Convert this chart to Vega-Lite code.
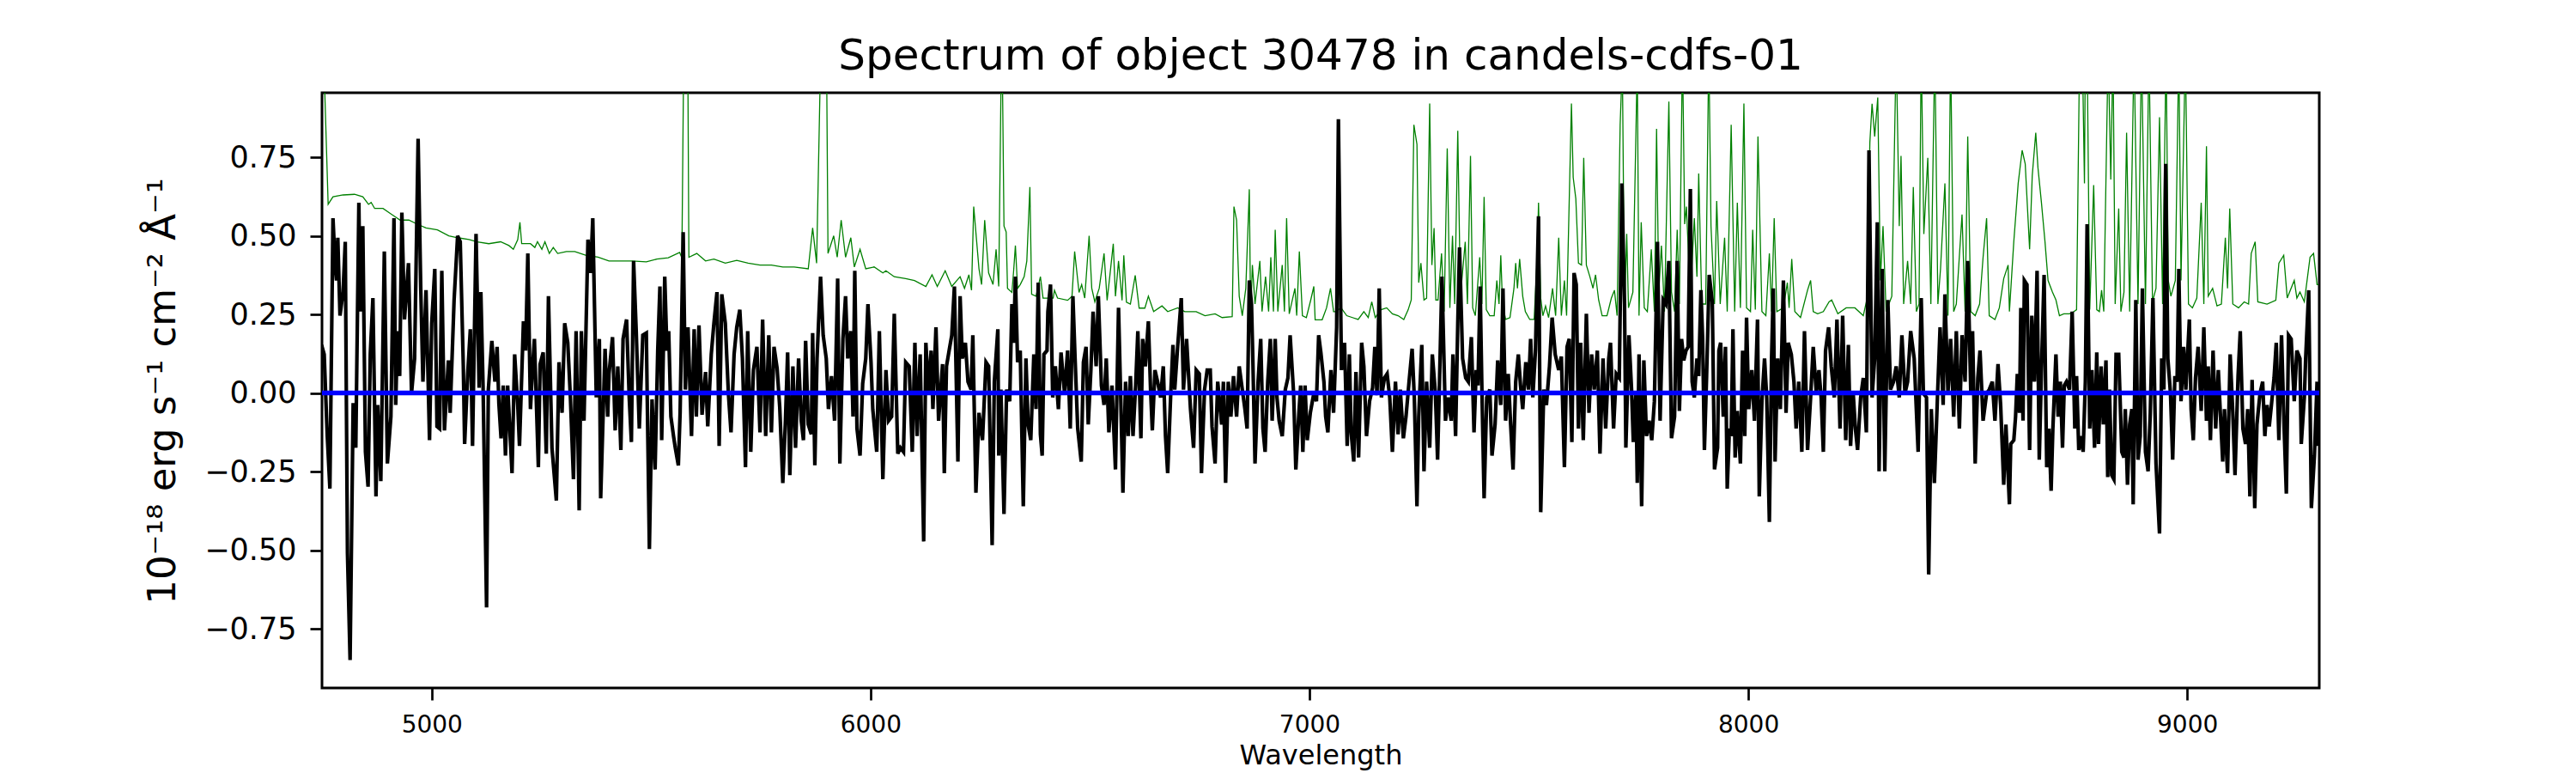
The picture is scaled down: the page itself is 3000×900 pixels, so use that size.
{
  "$schema": "https://vega.github.io/schema/vega-lite/v6.json",
  "description": "Spectrum of object 30478 (flux, error and zero line).",
  "autosize": {"type": "none"},
  "padding": {"left": 375, "top": 108, "right": 299, "bottom": 99},
  "width": 2326,
  "height": 693,
  "background": "white",
  "title": {
    "text": "Spectrum of object 30478 in candels-cdfs-01",
    "font": "DejaVu Sans",
    "fontSize": 50,
    "fontWeight": "normal",
    "color": "#000000",
    "anchor": "middle",
    "baseline": "alphabetic",
    "offset": 24,
    "dy": 47
  },
  "datasets": {
    "err": [
      {"w":4749,"v":1.3},{"w":4764,"v":0.6},{"w":4775,"v":0.624},{"w":4798,"v":0.63},{"w":4824,"v":0.632},{"w":4843,"v":0.624},{"w":4856,"v":0.6},{"w":4862,"v":0.606},{"w":4870,"v":0.587},{"w":4889,"v":0.587},{"w":4909,"v":0.568},{"w":4928,"v":0.55},{"w":4948,"v":0.55},{"w":4967,"v":0.537},{"w":4987,"v":0.525},{"w":5013,"v":0.519},{"w":5039,"v":0.5},{"w":5059,"v":0.494},{"w":5085,"v":0.488},{"w":5104,"v":0.481},{"w":5130,"v":0.475},{"w":5157,"v":0.481},{"w":5176,"v":0.469},{"w":5186,"v":0.457},{"w":5196,"v":0.488},{"w":5201,"v":0.543},{"w":5205,"v":0.475},{"w":5225,"v":0.475},{"w":5235,"v":0.463},{"w":5241,"v":0.481},{"w":5251,"v":0.457},{"w":5258,"v":0.481},{"w":5268,"v":0.444},{"w":5277,"v":0.463},{"w":5287,"v":0.444},{"w":5307,"v":0.45},{"w":5326,"v":0.45},{"w":5352,"v":0.438},{"w":5379,"v":0.432},{"w":5404,"v":0.42},{"w":5431,"v":0.42},{"w":5457,"v":0.42},{"w":5489,"v":0.417},
      {"w":5513,"v":0.426},{"w":5539,"v":0.43},{"w":5565,"v":0.447},{"w":5570,"v":0.43},{"w":5575,"v":1.2},{"w":5583,"v":1.2},{"w":5586,"v":0.432},{"w":5604,"v":0.444},{"w":5624,"v":0.42},{"w":5643,"v":0.426},{"w":5669,"v":0.413},{"w":5695,"v":0.422},{"w":5721,"v":0.413},{"w":5748,"v":0.407},{"w":5774,"v":0.407},{"w":5800,"v":0.401},{"w":5826,"v":0.401},{"w":5858,"v":0.395},{"w":5868,"v":0.525},{"w":5877,"v":0.413},{"w":5888,"v":1.2},{"w":5899,"v":1.2},{"w":5903,"v":0.444},{"w":5916,"v":0.5},{"w":5924,"v":0.432},{"w":5933,"v":0.55},{"w":5943,"v":0.432},{"w":5955,"v":0.494},{"w":5963,"v":0.401},{"w":5976,"v":0.457},{"w":5989,"v":0.395},{"w":6008,"v":0.401},{"w":6028,"v":0.382},{"w":6035,"v":0.389},{"w":6054,"v":0.37},{"w":6080,"v":0.364},{"w":6100,"v":0.358},{"w":6126,"v":0.339},{"w":6140,"v":0.376},{"w":6152,"v":0.339},{"w":6170,"v":0.389},{"w":6185,"v":0.339},{"w":6204,"v":0.37},{"w":6214,"v":0.333},{"w":6224,"v":0.376},{"w":6230,"v":0.327},{"w":6235,"v":0.593},{"w":6247,"v":0.395},{"w":6253,"v":0.345},{"w":6260,"v":0.55},{"w":6269,"v":0.382},{"w":6279,"v":0.345},
      {"w":6286,"v":0.457},{"w":6292,"v":0.339},{"w":6299,"v":1.2},{"w":6304,"v":0.531},{"w":6309,"v":0.512},{"w":6312,"v":0.333},{"w":6322,"v":0.32},{"w":6326,"v":0.389},{"w":6330,"v":0.469},{"w":6335,"v":0.333},{"w":6341,"v":0.345},{"w":6350,"v":0.37},{"w":6356,"v":0.42},{"w":6363,"v":0.655},{"w":6367,"v":0.314},{"w":6377,"v":0.308},{"w":6387,"v":0.37},{"w":6393,"v":0.302},{"w":6416,"v":0.302},{"w":6419,"v":0.327},{"w":6426,"v":0.302},{"w":6449,"v":0.295},{"w":6459,"v":0.308},{"w":6465,"v":0.45},{"w":6475,"v":0.32},{"w":6481,"v":0.345},{"w":6488,"v":0.302},{"w":6498,"v":0.5},{"w":6504,"v":0.333},{"w":6511,"v":0.29},{"w":6521,"v":0.333},{"w":6532,"v":0.444},{"w":6539,"v":0.295},{"w":6545,"v":0.37},{"w":6553,"v":0.475},{"w":6558,"v":0.308},{"w":6565,"v":0.42},{"w":6573,"v":0.295},{"w":6577,"v":0.438},{"w":6583,"v":0.289},{"w":6592,"v":0.283},{"w":6603,"v":0.374},{"w":6612,"v":0.27},{"w":6625,"v":0.27},{"w":6633,"v":0.308},{"w":6645,"v":0.259},{"w":6664,"v":0.277},{"w":6677,"v":0.259},{"w":6700,"v":0.271},{"w":6716,"v":0.259},{"w":6742,"v":0.259},{"w":6762,"v":0.246},{"w":6785,"v":0.252},{"w":6801,"v":0.24},{"w":6824,"v":0.243},{"w":6828,"v":0.593},{"w":6834,"v":0.55},{"w":6840,"v":0.308},{"w":6847,"v":0.246},{"w":6855,"v":0.333},{"w":6863,"v":0.648},{"w":6866,"v":0.246},{"w":6870,"v":0.407},{"w":6876,"v":0.283},{"w":6887,"v":0.42},{"w":6892,"v":0.259},{"w":6900,"v":0.37},{"w":6907,"v":0.259},{"w":6912,"v":0.432},{"w":6918,"v":0.259},{"w":6922,"v":0.519},{"w":6928,"v":0.259},{"w":6938,"v":0.407},{"w":6943,"v":0.259},{"w":6948,"v":0.556},{"w":6954,"v":0.252},{"w":6967,"v":0.333},{"w":6971,"v":0.246},{"w":6977,"v":0.45},{"w":6984,"v":0.246},{"w":6993,"v":0.24},{"w":7003,"v":0.296},{"w":7010,"v":0.339},{"w":7013,"v":0.233},{"w":7029,"v":0.233},{"w":7039,"v":0.271},{"w":7048,"v":0.333},{"w":7055,"v":0.259},
      {"w":7059,"v":0.259},{"w":7072,"v":0.271},{"w":7085,"v":0.246},{"w":7098,"v":0.24},{"w":7111,"v":0.234},{"w":7124,"v":0.259},{"w":7134,"v":0.24},{"w":7142,"v":0.29},{"w":7150,"v":0.24},{"w":7163,"v":0.265},{"w":7176,"v":0.271},{"w":7189,"v":0.252},{"w":7202,"v":0.246},{"w":7215,"v":0.234},{"w":7225,"v":0.265},{"w":7232,"v":0.296},{"w":7238,"v":0.853},{"w":7245,"v":0.791},{"w":7249,"v":0.351},{"w":7254,"v":0.413},{"w":7261,"v":0.296},{"w":7267,"v":0.302},{"w":7274,"v":0.921},{"w":7279,"v":0.407},{"w":7284,"v":0.525},{"w":7288,"v":0.296},{"w":7293,"v":0.296},{"w":7301,"v":0.444},{"w":7307,"v":0.259},{"w":7314,"v":0.778},{"w":7320,"v":0.271},{"w":7326,"v":0.5},{"w":7331,"v":0.283},{"w":7338,"v":0.834},{"w":7344,"v":0.308},{"w":7355,"v":0.481},{"w":7360,"v":0.283},{"w":7367,"v":0.754},{"w":7372,"v":0.271},{"w":7378,"v":0.246},{"w":7388,"v":0.432},{"w":7393,"v":0.283},{"w":7398,"v":0.624},{"w":7403,"v":0.265},{"w":7411,"v":0.246},{"w":7421,"v":0.246},{"w":7427,"v":0.358},{"w":7432,"v":0.283},{"w":7436,"v":0.438},{"w":7440,"v":0.283},{"w":7447,"v":0.234},{"w":7457,"v":0.24},{"w":7466,"v":0.333},{"w":7470,"v":0.413},{"w":7474,"v":0.333},{"w":7479,"v":0.426},{"w":7486,"v":0.308},{"w":7492,"v":0.259},{"w":7502,"v":0.234},{"w":7512,"v":0.234},{"w":7519,"v":0.432},{"w":7522,"v":0.605},{"w":7527,"v":0.302},{"w":7532,"v":0.246},{"w":7538,"v":0.277},{"w":7545,"v":0.24},{"w":7554,"v":0.333},{"w":7561,"v":0.246},{"w":7568,"v":0.494},{"w":7574,"v":0.246},{"w":7581,"v":0.358},{"w":7586,"v":0.246},{"w":7597,"v":0.921},{"w":7601,"v":0.686},{"w":7607,"v":0.618},{"w":7613,"v":0.413},{"w":7620,"v":0.407},{"w":7625,"v":0.748},{"w":7631,"v":0.407},{"w":7639,"v":0.37},{"w":7646,"v":0.333},{"w":7652,"v":0.376},{"w":7659,"v":0.296},{"w":7667,"v":0.246},{"w":7678,"v":0.246},{"w":7688,"v":0.302},{"w":7695,"v":0.327},{"w":7701,"v":0.246},{"w":7708,"v":0.853},{"w":7713,"v":1.05},{"w":7718,"v":0.259},{"w":7723,"v":0.506},{"w":7727,"v":0.271},{"w":7737,"v":0.321},{"w":7747,"v":1.05},{"w":7751,"v":0.246},{"w":7756,"v":0.543},{"w":7763,"v":0.271},{"w":7770,"v":0.259},{"w":7779,"v":0.457},{"w":7786,"v":0.259},{"w":7791,"v":0.84},{"w":7796,"v":0.321},{"w":7802,"v":0.469},{"w":7809,"v":0.259},{"w":7819,"v":0.927},{"w":7825,"v":0.321},{"w":7832,"v":0.259},{"w":7838,"v":0.519},
      {"w":7843,"v":0.283},{"w":7850,"v":1.1},{"w":7855,"v":0.537},{"w":7859,"v":0.593},{"w":7868,"v":0.302},{"w":7872,"v":0.42},{"w":7877,"v":0.556},{"w":7883,"v":0.37},{"w":7887,"v":0.698},{"w":7894,"v":0.283},{"w":7903,"v":0.283},{"w":7910,"v":1.1},{"w":7915,"v":0.531},{"w":7923,"v":0.283},{"w":7928,"v":0.611},{"w":7936,"v":0.283},{"w":7946,"v":0.494},{"w":7952,"v":0.259},{"w":7961,"v":0.853},{"w":7969,"v":0.259},{"w":7975,"v":0.605},{"w":7982,"v":0.271},{"w":7990,"v":0.921},{"w":7996,"v":0.271},{"w":8005,"v":0.259},{"w":8010,"v":0.519},{"w":8016,"v":0.265},{"w":8022,"v":0.816},{"w":8031,"v":0.259},{"w":8040,"v":0.246},{"w":8048,"v":0.444},{"w":8053,"v":0.259},{"w":8059,"v":0.556},{"w":8065,"v":0.259},{"w":8080,"v":0.271},{"w":8089,"v":0.351},{"w":8093,"v":0.271},{"w":8099,"v":0.426},{"w":8106,"v":0.259},{"w":8119,"v":0.24},{"w":8135,"v":0.327},{"w":8142,"v":0.358},{"w":8148,"v":0.259},{"w":8158,"v":0.252},{"w":8171,"v":0.259},{"w":8184,"v":0.29},{"w":8190,"v":0.296},{"w":8204,"v":0.252},{"w":8223,"v":0.271},{"w":8243,"v":0.271},{"w":8262,"v":0.246},{"w":8270,"v":0.296},{"w":8277,"v":0.797},{"w":8282,"v":0.92},{"w":8288,"v":0.816},{"w":8295,"v":0.94},{"w":8301,"v":0.358},{"w":8307,"v":0.531},{"w":8314,"v":0.259},{"w":8327,"v":0.308},{"w":8337,"v":1.1},{"w":8344,"v":0.531},{"w":8348,"v":0.754},{"w":8354,"v":0.283},{"w":8363,"v":0.42},{"w":8370,"v":0.283},{"w":8376,"v":0.655},{"w":8383,"v":0.259},{"w":8389,"v":0.283},{"w":8394,"v":1.1},{"w":8400,"v":0.506},{"w":8409,"v":0.748},{"w":8416,"v":0.283},{"w":8425,"v":1.1},{"w":8432,"v":0.283},{"w":8438,"v":0.395},{"w":8448,"v":0.667},{"w":8455,"v":0.246},{"w":8461,"v":1.1},{"w":8468,"v":0.259},{"w":8474,"v":0.283},{"w":8487,"v":0.568},{"w":8494,"v":0.259},{"w":8500,"v":0.816},{"w":8507,"v":0.259},{"w":8517,"v":0.246},{"w":8527,"v":0.283},{"w":8535,"v":0.432},{"w":8543,"v":0.556},{"w":8549,"v":0.246},{"w":8562,"v":0.234},{"w":8572,"v":0.271},{"w":8582,"v":0.364},{"w":8592,"v":0.407},
      {"w":8595,"v":0.259},{"w":8605,"v":0.482},{"w":8615,"v":0.667},{"w":8624,"v":0.772},{"w":8631,"v":0.729},{"w":8641,"v":0.457},{"w":8647,"v":0.691},{"w":8655,"v":0.828},{"w":8660,"v":0.717},{"w":8668,"v":0.605},{"w":8676,"v":0.482},{"w":8683,"v":0.358},{"w":8693,"v":0.321},{"w":8701,"v":0.296},{"w":8709,"v":0.246},{"w":8719,"v":0.252},{"w":8732,"v":0.252},{"w":8742,"v":0.259},{"w":8748,"v":0.265},{"w":8755,"v":1.1},{"w":8761,"v":1.1},{"w":8766,"v":0.667},{"w":8768,"v":1.1},{"w":8772,"v":1.1},{"w":8778,"v":0.265},{"w":8787,"v":0.661},{"w":8794,"v":0.265},{"w":8800,"v":0.259},{"w":8805,"v":0.327},{"w":8810,"v":0.259},{"w":8820,"v":1.1},{"w":8826,"v":0.679},{"w":8831,"v":1.1},{"w":8836,"v":0.283},{"w":8844,"v":0.587},{"w":8849,"v":0.259},{"w":8856,"v":0.321},{"w":8862,"v":0.828},{"w":8869,"v":0.259},{"w":8879,"v":1.1},{"w":8888,"v":0.283},{"w":8896,"v":1.1},{"w":8905,"v":0.283},{"w":8913,"v":1.1},{"w":8921,"v":0.29},{"w":8929,"v":0.333},{"w":8937,"v":0.877},{"w":8944,"v":0.283},{"w":8952,"v":1.1},{"w":8957,"v":0.358},{"w":8963,"v":0.308},{"w":8973,"v":0.358},{"w":8981,"v":1.1},{"w":8986,"v":0.358},{"w":8996,"v":1.1},{"w":9003,"v":0.283},{"w":9012,"v":0.271},{"w":9022,"v":0.302},{"w":9032,"v":0.605},{"w":9038,"v":0.283},{"w":9044,"v":0.785},{"w":9048,"v":0.308},{"w":9058,"v":0.333},{"w":9068,"v":0.277},{"w":9078,"v":0.283},{"w":9087,"v":0.494},{"w":9092,"v":0.333},{"w":9097,"v":0.587},{"w":9104,"v":0.283},{"w":9117,"v":0.271},{"w":9130,"v":0.29},{"w":9140,"v":0.283},{"w":9146,"v":0.444},{"w":9155,"v":0.481},{"w":9161,"v":0.29},{"w":9182,"v":0.283},{"w":9202,"v":0.295},{"w":9209,"v":0.413},{"w":9220,"v":0.438},{"w":9228,"v":0.302},{"w":9244,"v":0.358},{"w":9250,"v":0.302},{"w":9257,"v":0.321},{"w":9267,"v":0.29},{"w":9280,"v":0.432},{"w":9288,"v":0.444},{"w":9296,"v":0.345},{"w":9299,"v":0.345}
    ],
    "flux": [
      {"w":4749,"v":0.153},{"w":4755,"v":0.123},{"w":4762,"v":-0.137},{"w":4768,"v":-0.304},{"w":4775,"v":0.556},{"w":4780,"v":0.407},{"w":4783,"v":0.358},{"w":4786,"v":0.494},{"w":4791,"v":0.246},{"w":4798,"v":0.321},{"w":4803,"v":0.481},{"w":4808,"v":-0.509},{"w":4814,"v":-0.849},{"w":4821,"v":-0.032},{"w":4827,"v":-0.174},{"w":4834,"v":0.605},{"w":4837,"v":0.259},{"w":4843,"v":0.531},{"w":4849,"v":-0.187},{"w":4855,"v":-0.298},{"w":4860,"v":0.123},{"w":4866,"v":0.302},{"w":4873,"v":-0.329},{"w":4877,"v":-0.038},{"w":4884,"v":-0.28},{"w":4892,"v":0.45},{"w":4899,"v":-0.224},{"w":4907,"v":-0.075},{"w":4914,"v":0.556},{"w":4918,"v":-0.038},{"w":4922,"v":0.197},{"w":4927,"v":0.054},{"w":4932,"v":0.574},{"w":4938,"v":0.234},{"w":4947,"v":0.413},{"w":4954,"v":-0.001},{"w":4961,"v":0.11},{"w":4969,"v":0.809},{"w":4975,"v":0.333},{"w":4980,"v":0.036},{"w":4987,"v":0.327},{"w":4995,"v":-0.15},{"w":5000,"v":0.222},{"w":5007,"v":0.395},{"w":5012,"v":-0.106},{"w":5018,"v":-0.113},{"w":5023,"v":0.389},{"w":5029,"v":-0.119},{"w":5038,"v":0.104},{"w":5042,"v":-0.063},{"w":5051,"v":0.296},{"w":5059,"v":0.5},{"w":5065,"v":0.481},{"w":5072,"v":0.085},{"w":5075,"v":-0.162},{"w":5082,"v":0.061},{"w":5088,"v":0.203},{"w":5093,"v":-0.168},{"w":5101,"v":0.506},{"w":5108,"v":0.017},{"w":5112,"v":0.321},{"w":5117,"v":0.024},{"w":5125,"v":-0.682},{"w":5129,"v":0.011},{"w":5137,"v":0.166},{"w":5144,"v":0.036},{"w":5149,"v":0.147},{"w":5153,"v":-0.032},{"w":5158,"v":-0.144},{"w":5163,"v":0.024},{"w":5168,"v":-0.199},{"w":5173,"v":0.024},{"w":5183,"v":-0.255},{"w":5189,"v":0.123},{"w":5196,"v":-0.038},{"w":5200,"v":-0.168},{"w":5209,"v":0.228},{"w":5214,"v":0.135},{"w":5219,"v":0.444},{"w":5225,"v":-0.051},{"w":5230,"v":0.085},{"w":5234,"v":0.172},{"w":5243,"v":-0.236},{"w":5247,"v":0.092},{"w":5254,"v":0.129},{"w":5261,"v":-0.193},{"w":5266,"v":0.308},{"w":5274,"v":-0.174},{"w":5284,"v":-0.342},{"w":5290,"v":0.098},{"w":5297,"v":-0.063},{"w":5303,"v":0.222},{"w":5310,"v":0.16},{"w":5316,"v":-0.014},{"w":5323,"v":-0.274},{"w":5329,"v":0.197},{"w":5336,"v":-0.373},{"w":5341,"v":0.197},{"w":5347,"v":-0.088},{"w":5356,"v":0.488},{"w":5362,"v":0.382},{"w":5367,"v":0.556},{"w":5371,"v":0.271},{"w":5375,"v":-0.014},{"w":5382,"v":0.172},{"w":5385,"v":-0.335},{"w":5395,"v":0.141},{"w":5401,"v":-0.075},{"w":5404,"v":0.061},{"w":5412,"v":0.178},{"w":5418,"v":-0.119},{"w":5424,"v":0.085},{"w":5431,"v":-0.181},{"w":5436,"v":0.172},{"w":5444,"v":0.234},{"w":5450,"v":-0.014},{"w":5455,"v":-0.156},{"w":5460,"v":0.42},{"w":5466,"v":0.197},{"w":5473,"v":-0.113},{"w":5481,"v":0.184},{"w":5489,"v":0.191},{"w":5496,"v":-0.496},{"w":5502,"v":-0.02},{"w":5509,"v":-0.243},{"w":5515,"v":0.135},{"w":5520,"v":0.339},
      {"w":5524,"v":-0.15},{"w":5531,"v":0.37},{"w":5536,"v":0.135},{"w":5540,"v":0.197},{"w":5545,"v":-0.075},{"w":5551,"v":-0.137},{"w":5555,"v":-0.174},{"w":5562,"v":-0.23},{"w":5566,"v":-0.063},{"w":5573,"v":0.512},{"w":5578,"v":0.011},{"w":5584,"v":0.209},{"w":5592,"v":-0.137},{"w":5598,"v":0.203},{"w":5603,"v":-0.075},{"w":5609,"v":0.215},{"w":5616,"v":-0.069},{"w":5624,"v":0.067},{"w":5629,"v":-0.106},{"w":5637,"v":0.123},{"w":5643,"v":0.222},{"w":5650,"v":0.321},{"w":5655,"v":-0.168},{"w":5661,"v":0.314},{"w":5669,"v":0.222},{"w":5676,"v":-0.001},{"w":5682,"v":-0.125},{"w":5689,"v":0.123},{"w":5695,"v":0.209},{"w":5702,"v":0.265},{"w":5708,"v":0.11},{"w":5715,"v":-0.236},{"w":5720,"v":0.197},{"w":5727,"v":-0.187},{"w":5733,"v":0.073},{"w":5741,"v":0.147},{"w":5748,"v":-0.125},{"w":5754,"v":0.234},{"w":5761,"v":-0.137},{"w":5768,"v":0.184},{"w":5774,"v":-0.125},{"w":5780,"v":0.147},{"w":5787,"v":0.079},{"w":5793,"v":-0.045},{"w":5800,"v":-0.286},{"w":5806,"v":-0.088},{"w":5811,"v":0.129},{"w":5816,"v":-0.261},{"w":5823,"v":0.085},{"w":5829,"v":-0.174},{"w":5836,"v":0.11},{"w":5842,"v":-0.088},{"w":5847,"v":-0.15},{"w":5852,"v":0.166},{"w":5858,"v":-0.1},{"w":5865,"v":-0.131},{"w":5868,"v":0.191},{"w":5873,"v":-0.23},{"w":5878,"v":0.11},{"w":5886,"v":0.37},{"w":5892,"v":0.184},{"w":5899,"v":0.11},{"w":5904,"v":-0.051},{"w":5911,"v":0.054},{"w":5918,"v":-0.088},{"w":5925,"v":0.364},{"w":5930,"v":-0.224},{"w":5937,"v":0.172},{"w":5943,"v":0.308},{"w":5948,"v":0.11},{"w":5955,"v":0.197},{"w":5960,"v":-0.075},{"w":5964,"v":0.389},{"w":5969,"v":-0.113},{"w":5976,"v":-0.199},{"w":5982,"v":0.03},{"w":5989,"v":0.11},{"w":5994,"v":0.283},{"w":6001,"v":0.098},{"w":6005,"v":-0.051},{"w":6014,"v":-0.187},{"w":6020,"v":0.197},{"w":6028,"v":-0.274},{"w":6035,"v":0.073},{"w":6041,"v":-0.088},{"w":6048,"v":-0.075},{"w":6054,"v":0.252},{"w":6062,"v":-0.193},{"w":6068,"v":-0.174},{"w":6075,"v":-0.187},{"w":6080,"v":0.098},{"w":6088,"v":0.085},{"w":6095,"v":-0.187},{"w":6101,"v":0.16},{"w":6106,"v":-0.137},{"w":6113,"v":0.123},{"w":6121,"v":-0.472},{"w":6126,"v":0.16},{"w":6132,"v":-0.001},{"w":6138,"v":0.135},{"w":6142,"v":-0.051},{"w":6149,"v":0.209},{"w":6155,"v":-0.088},{"w":6164,"v":0.092},{"w":6168,"v":-0.255},{"w":6173,"v":0.085},{"w":6179,"v":0.135},{"w":6185,"v":0.184},{"w":6191,"v":0.339},{"w":6199,"v":-0.218},{"w":6204,"v":0.308},{"w":6209,"v":0.11},{"w":6216,"v":0.16},{"w":6222,"v":0.036},{"w":6229,"v":0.011},{"w":6233,"v":0.184},{"w":6240,"v":-0.317},{"w":6247,"v":-0.063},{"w":6255,"v":-0.15},{"w":6263,"v":0.098},{"w":6269,"v":0.085},{"w":6277,"v":-0.484},{"w":6282,"v":0.036},{"w":6290,"v":0.203},
      {"w":6292,"v":-0.199},{"w":6297,"v":0.011},{"w":6304,"v":-0.385},{"w":6310,"v":0.011},{"w":6317,"v":-0.026},{"w":6322,"v":0.283},{"w":6326,"v":0.16},{"w":6330,"v":0.37},{"w":6335,"v":0.098},{"w":6341,"v":0.135},{"w":6348,"v":-0.36},{"w":6354,"v":0.11},{"w":6359,"v":-0.1},{"w":6365,"v":-0.15},{"w":6372,"v":0.123},{"w":6377,"v":-0.051},{"w":6382,"v":0.351},{"w":6387,"v":-0.131},{"w":6391,"v":-0.199},{"w":6395,"v":0.123},{"w":6402,"v":0.135},{"w":6404,"v":0.259},{"w":6410,"v":0.345},{"w":6415,"v":-0.014},{"w":6421,"v":0.085},{"w":6428,"v":-0.051},{"w":6434,"v":0.129},{"w":6442,"v":-0.001},{"w":6449,"v":0.135},{"w":6455,"v":-0.113},{"w":6461,"v":0.308},{"w":6466,"v":0.11},{"w":6472,"v":-0.113},{"w":6480,"v":-0.218},{"w":6485,"v":0.098},{"w":6491,"v":0.147},{"w":6496,"v":-0.1},{"w":6502,"v":0.073},{"w":6507,"v":0.259},{"w":6514,"v":0.085},{"w":6519,"v":0.308},{"w":6526,"v":0.024},{"w":6532,"v":-0.038},{"w":6537,"v":0.11},{"w":6543,"v":-0.125},{"w":6550,"v":0.024},{"w":6558,"v":-0.243},{"w":6565,"v":0.271},{"w":6570,"v":-0.014},{"w":6575,"v":-0.317},{"w":6581,"v":0.036},{"w":6587,"v":-0.137},{"w":6592,"v":0.054},{"w":6598,"v":-0.137},{"w":6604,"v":0.024},{"w":6609,"v":0.197},{"w":6616,"v":-0.144},{"w":6620,"v":0.172},{"w":6626,"v":0.085},{"w":6633,"v":0.228},{"w":6638,"v":0.011},{"w":6642,"v":-0.119},{"w":6648,"v":0.073},{"w":6654,"v":0.036},{"w":6661,"v":-0.014},{"w":6667,"v":0.085},{"w":6672,"v":-0.137},{"w":6677,"v":-0.255},{"w":6684,"v":-0.001},{"w":6689,"v":0.153},{"w":6693,"v":0.011},{"w":6700,"v":0.153},{"w":6708,"v":0.302},{"w":6713,"v":0.011},{"w":6720,"v":0.172},{"w":6729,"v":-0.051},{"w":6736,"v":-0.174},{"w":6742,"v":0.073},{"w":6749,"v":0.061},{"w":6754,"v":-0.255},{"w":6761,"v":0.011},{"w":6767,"v":0.073},{"w":6774,"v":0.073},{"w":6778,"v":-0.106},{"w":6785,"v":-0.224},{"w":6791,"v":0.036},{"w":6800,"v":-0.1},{"w":6804,"v":0.036},{"w":6809,"v":-0.286},{"w":6815,"v":0.036},{"w":6821,"v":-0.075},{"w":6827,"v":0.054},{"w":6834,"v":-0.075},{"w":6840,"v":0.085},{"w":6847,"v":0.011},{"w":6853,"v":-0.051},{"w":6858,"v":-0.113},{"w":6863,"v":0.358},{"w":6868,"v":0.283},{"w":6871,"v":0.11},{"w":6876,"v":-0.224},{"w":6883,"v":0.036},{"w":6889,"v":0.172},{"w":6894,"v":-0.113},{"w":6899,"v":-0.187},{"w":6905,"v":0.036},{"w":6911,"v":0.172},{"w":6915,"v":-0.088},{"w":6922,"v":0.172},{"w":6926,"v":-0.014},{"w":6931,"v":-0.088},{"w":6938,"v":-0.137},{"w":6945,"v":0.011},{"w":6951,"v":0.048},{"w":6956,"v":0.184},{"w":6964,"v":-0.001},{"w":6969,"v":-0.243},{"w":6976,"v":-0.063},{"w":6980,"v":0.024},{"w":6985,"v":-0.187},{"w":6990,"v":0.024},{"w":6995,"v":-0.15},{"w":7002,"v":-0.063},{"w":7010,"v":-0.001},{"w":7016,"v":-0.026},{"w":7021,"v":0.184},{"w":7026,"v":0.129},{"w":7033,"v":0.036},{"w":7037,"v":-0.075},{"w":7042,"v":-0.125},{"w":7049,"v":0.073},{"w":7055,"v":-0.063},{"w":7062,"v":0.209},{"w":7066,"v":0.871},
      {"w":7073,"v":0.073},{"w":7080,"v":0.16},{"w":7086,"v":-0.168},{"w":7091,"v":0.123},{"w":7095,"v":-0.125},{"w":7101,"v":-0.218},{"w":7106,"v":0.067},{"w":7112,"v":-0.205},{"w":7119,"v":0.16},{"w":7124,"v":0.085},{"w":7130,"v":-0.137},{"w":7137,"v":-0.026},{"w":7144,"v":0.017},{"w":7149,"v":0.147},{"w":7154,"v":-0.007},{"w":7159,"v":0.333},{"w":7164,"v":-0.014},{"w":7171,"v":0.048},{"w":7177,"v":0.061},{"w":7183,"v":-0.014},{"w":7189,"v":-0.187},{"w":7196,"v":0.036},{"w":7202,"v":-0.131},{"w":7207,"v":0.011},{"w":7214,"v":-0.144},{"w":7220,"v":-0.075},{"w":7227,"v":0.036},{"w":7234,"v":0.141},{"w":7239,"v":-0.014},{"w":7245,"v":-0.36},{"w":7249,"v":-0.075},{"w":7256,"v":0.153},{"w":7261,"v":-0.249},{"w":7267,"v":0.036},{"w":7274,"v":-0.174},{"w":7280,"v":0.123},{"w":7287,"v":-0.001},{"w":7292,"v":-0.212},{"w":7297,"v":0.073},{"w":7302,"v":0.37},{"w":7310,"v":-0.088},{"w":7316,"v":-0.014},{"w":7323,"v":-0.088},{"w":7327,"v":0.123},{"w":7333,"v":-0.137},{"w":7338,"v":0.222},{"w":7342,"v":0.463},{"w":7349,"v":0.11},{"w":7356,"v":0.048},{"w":7362,"v":0.036},{"w":7369,"v":0.178},{"w":7375,"v":-0.125},{"w":7380,"v":0.073},{"w":7384,"v":0.024},{"w":7389,"v":0.339},{"w":7393,"v":0.011},{"w":7398,"v":-0.335},{"w":7404,"v":-0.014},{"w":7411,"v":0.011},{"w":7416,"v":-0.199},{"w":7423,"v":-0.1},{"w":7429,"v":0.104},{"w":7436,"v":-0.038},{"w":7441,"v":0.333},{"w":7447,"v":-0.088},{"w":7453,"v":0.061},{"w":7458,"v":-0.088},{"w":7464,"v":-0.243},{"w":7470,"v":0.036},{"w":7476,"v":0.123},{"w":7481,"v":0.024},{"w":7486,"v":-0.051},{"w":7493,"v":0.098},{"w":7499,"v":0.011},{"w":7504,"v":0.172},{"w":7509,"v":-0.014},{"w":7515,"v":0.135},{"w":7522,"v":0.562},{"w":7527,"v":-0.379},{"w":7534,"v":0.011},{"w":7540,"v":-0.038},{"w":7547,"v":0.085},{"w":7553,"v":0.24},{"w":7560,"v":0.123},{"w":7568,"v":0.073},{"w":7574,"v":0.116},{"w":7581,"v":-0.236},{"w":7587,"v":0.147},{"w":7592,"v":0.172},{"w":7598,"v":-0.156},{"w":7603,"v":0.382},{"w":7608,"v":0.345},{"w":7613,"v":-0.113},{"w":7618,"v":0.16},{"w":7624,"v":-0.15},{"w":7631,"v":0.252},{"w":7637,"v":-0.063},{"w":7643,"v":0.123},{"w":7649,"v":0.011},{"w":7656,"v":0.135},{"w":7662,"v":-0.193},{"w":7669,"v":0.11},{"w":7675,"v":-0.113},{"w":7682,"v":0.11},{"w":7686,"v":0.16},{"w":7693,"v":-0.113},{"w":7699,"v":0.061},{"w":7706,"v":0.048},{"w":7712,"v":0.667},{"w":7718,"v":0.283},{"w":7721,"v":-0.174},{"w":7728,"v":0.184},{"w":7734,"v":0.011},{"w":7738,"v":-0.156},{"w":7744,"v":-0.001},{"w":7747,"v":-0.286},{"w":7751,"v":0.123},{"w":7757,"v":-0.36},{"w":7762,"v":0.104},{"w":7768,"v":-0.137},{"w":7774,"v":-0.088},{"w":7780,"v":-0.15},{"w":7786,"v":-0.026},{"w":7793,"v":0.481},{"w":7799,"v":-0.088},{"w":7806,"v":0.296},{"w":7812,"v":0.283},{"w":7819,"v":0.42},{"w":7825,"v":-0.144},{"w":7832,"v":-0.075},{"w":7838,"v":0.42},
      {"w":7843,"v":-0.057},{"w":7848,"v":0.172},{"w":7853,"v":0.104},{"w":7858,"v":0.135},{"w":7863,"v":0.147},{"w":7868,"v":0.649},{"w":7872,"v":0.036},{"w":7877,"v":-0.014},{"w":7883,"v":0.11},{"w":7887,"v":0.054},{"w":7892,"v":0.327},{"w":7896,"v":0.172},{"w":7900,"v":-0.181},{"w":7905,"v":0.054},{"w":7911,"v":0.376},{"w":7918,"v":0.29},{"w":7923,"v":-0.243},{"w":7930,"v":-0.174},{"w":7933,"v":0.135},{"w":7937,"v":0.16},{"w":7943,"v":-0.075},{"w":7948,"v":0.147},{"w":7952,"v":-0.304},{"w":7957,"v":-0.113},{"w":7961,"v":-0.137},{"w":7965,"v":0.203},{"w":7970,"v":-0.205},{"w":7975,"v":-0.057},{"w":7982,"v":-0.224},{"w":7987,"v":0.135},{"w":7992,"v":-0.137},{"w":7996,"v":0.24},{"w":8001,"v":-0.051},{"w":8008,"v":0.073},{"w":8014,"v":-0.088},{"w":8021,"v":0.234},{"w":8025,"v":-0.329},{"w":8031,"v":-0.026},{"w":8037,"v":0.11},{"w":8042,"v":-0.014},{"w":8048,"v":-0.41},{"w":8053,"v":0.11},{"w":8057,"v":0.333},{"w":8061,"v":-0.218},{"w":8067,"v":0.11},{"w":8073,"v":-0.051},{"w":8080,"v":0.358},{"w":8086,"v":-0.063},{"w":8091,"v":0.16},{"w":8098,"v":0.123},{"w":8104,"v":0.036},{"w":8109,"v":-0.113},{"w":8115,"v":0.036},{"w":8122,"v":-0.187},{"w":8128,"v":0.197},{"w":8135,"v":-0.181},{"w":8142,"v":-0.014},{"w":8148,"v":0.147},{"w":8155,"v":-0.001},{"w":8161,"v":0.073},{"w":8166,"v":-0.014},{"w":8171,"v":-0.187},{"w":8176,"v":0.135},{"w":8183,"v":0.209},{"w":8189,"v":0.085},{"w":8196,"v":-0.014},{"w":8202,"v":0.234},{"w":8209,"v":-0.113},{"w":8215,"v":0.246},{"w":8222,"v":-0.15},{"w":8228,"v":0.153},{"w":8233,"v":-0.168},{"w":8239,"v":-0.001},{"w":8244,"v":-0.113},{"w":8249,"v":-0.181},{"w":8256,"v":-0.014},{"w":8262,"v":0.048},{"w":8269,"v":-0.125},{"w":8275,"v":0.772},{"w":8282,"v":-0.014},{"w":8288,"v":0.11},{"w":8294,"v":0.543},{"w":8298,"v":-0.249},{"w":8305,"v":0.395},{"w":8311,"v":-0.249},{"w":8318,"v":0.296},{"w":8324,"v":0.011},{"w":8331,"v":0.036},{"w":8337,"v":0.085},{"w":8344,"v":-0.014},{"w":8350,"v":0.184},{"w":8357,"v":-0.001},{"w":8363,"v":0.036},{"w":8370,"v":0.197},{"w":8378,"v":0.11},{"w":8387,"v":-0.187},{"w":8394,"v":0.302},{"w":8399,"v":-0.001},{"w":8406,"v":-0.014},{"w":8411,"v":-0.577},{"w":8417,"v":-0.051},{"w":8424,"v":-0.286},{"w":8431,"v":-0.014},{"w":8437,"v":0.209},{"w":8444,"v":-0.038},{"w":8448,"v":0.314},{"w":8455,"v":-0.001},{"w":8461,"v":0.172},{"w":8468,"v":-0.075},{"w":8474,"v":0.197},{"w":8481,"v":-0.113},{"w":8487,"v":0.184},{"w":8494,"v":0.036},{"w":8500,"v":0.42},{"w":8507,"v":-0.001},{"w":8511,"v":0.197},{"w":8517,"v":-0.224},{"w":8523,"v":0.048},{"w":8528,"v":0.135},{"w":8535,"v":-0.088},{"w":8543,"v":-0.001},{"w":8549,"v":0.011},{"w":8556,"v":0.036},{"w":8562,"v":-0.088},{"w":8569,"v":0.092},{"w":8575,"v":-0.038},{"w":8582,"v":-0.292},{"w":8587,"v":-0.1},
      {"w":8595,"v":-0.354},{"w":8598,"v":-0.162},{"w":8605,"v":-0.15},{"w":8609,"v":-0.075},{"w":8613,"v":0.061},{"w":8618,"v":-0.063},{"w":8621,"v":0.271},{"w":8626,"v":-0.088},{"w":8629,"v":0.358},{"w":8635,"v":0.345},{"w":8641,"v":-0.181},{"w":8646,"v":0.246},{"w":8652,"v":0.036},{"w":8658,"v":0.389},{"w":8663,"v":-0.212},{"w":8668,"v":0.073},{"w":8674,"v":0.376},{"w":8680,"v":-0.236},{"w":8685,"v":-0.113},{"w":8690,"v":-0.311},{"w":8694,"v":-0.113},{"w":8701,"v":0.123},{"w":8706,"v":-0.075},{"w":8711,"v":0.036},{"w":8716,"v":-0.174},{"w":8720,"v":0.024},{"w":8725,"v":0.036},{"w":8732,"v":0.011},{"w":8738,"v":0.259},{"w":8744,"v":-0.113},{"w":8748,"v":0.054},{"w":8753,"v":-0.181},{"w":8758,"v":-0.137},{"w":8763,"v":-0.187},{"w":8768,"v":0.036},{"w":8772,"v":0.537},{"w":8778,"v":-0.113},{"w":8783,"v":0.073},{"w":8789,"v":-0.174},{"w":8794,"v":0.129},{"w":8798,"v":-0.162},{"w":8804,"v":0.085},{"w":8809,"v":-0.1},{"w":8815,"v":0.104},{"w":8819,"v":-0.267},{"w":8823,"v":0.011},{"w":8828,"v":-0.261},{"w":8833,"v":-0.274},{"w":8838,"v":0.123},{"w":8844,"v":0.123},{"w":8851,"v":-0.187},{"w":8856,"v":-0.205},{"w":8859,"v":-0.051},{"w":8864,"v":-0.292},{"w":8869,"v":-0.1},{"w":8874,"v":-0.051},{"w":8877,"v":-0.354},{"w":8883,"v":0.296},{"w":8888,"v":-0.212},{"w":8893,"v":-0.137},{"w":8898,"v":0.333},{"w":8905,"v":-0.187},{"w":8911,"v":-0.249},{"w":8916,"v":-0.063},{"w":8922,"v":0.302},{"w":8929,"v":-0.224},{"w":8937,"v":-0.447},{"w":8942,"v":0.11},{"w":8947,"v":0.011},{"w":8951,"v":0.729},{"w":8956,"v":0.11},{"w":8962,"v":-0.001},{"w":8967,"v":-0.212},{"w":8972,"v":0.054},{"w":8977,"v":0.036},{"w":8981,"v":0.395},{"w":8986,"v":-0.026},{"w":8992,"v":0.147},{"w":8997,"v":0.011},{"w":9005,"v":0.234},{"w":9009,"v":-0.051},{"w":9014,"v":-0.15},{"w":9019,"v":0.048},{"w":9025,"v":0.147},{"w":9032,"v":-0.057},{"w":9038,"v":0.209},{"w":9044,"v":-0.088},{"w":9048,"v":0.085},{"w":9053,"v":-0.15},{"w":9059,"v":0.135},{"w":9065,"v":-0.113},{"w":9071,"v":0.073},{"w":9076,"v":-0.075},{"w":9081,"v":-0.218},{"w":9085,"v":-0.051},{"w":9092,"v":-0.255},{"w":9098,"v":0.123},{"w":9104,"v":-0.063},{"w":9109,"v":-0.261},{"w":9116,"v":0.054},{"w":9121,"v":0.197},{"w":9127,"v":-0.113},{"w":9133,"v":-0.162},{"w":9138,"v":-0.051},{"w":9143,"v":-0.329},{"w":9148,"v":0.042},{"w":9154,"v":-0.366},{"w":9159,"v":-0.1},{"w":9166,"v":-0.001},{"w":9172,"v":0.036},{"w":9177,"v":-0.137},{"w":9182,"v":-0.038},{"w":9187,"v":-0.106},{"w":9192,"v":-0.038},{"w":9198,"v":0.048},{"w":9203,"v":0.16},{"w":9209,"v":-0.15},{"w":9215,"v":0.184},{"w":9221,"v":-0.113},{"w":9226,"v":-0.32},{"w":9231,"v":0.184},{"w":9237,"v":0.172},{"w":9244,"v":-0.026},{"w":9250,"v":0.135},{"w":9257,"v":0.11},{"w":9260,"v":-0.162},{"w":9267,"v":-0.014},{"w":9270,"v":0.11},{"w":9277,"v":0.327},{"w":9283,"v":-0.366},{"w":9290,"v":-0.199},{"w":9296,"v":0.036},{"w":9299,"v":-0.168}
    ],
    "zero": [
      {"w":4750,"v":0},{"w":9301,"v":0}
    ]
  },
  "encoding": {
    "x": {
      "field": "w",
      "type": "quantitative",
      "scale": {"domain": [4750, 9301], "nice": false, "zero": false},
      "axis": {
        "title": "Wavelength",
        "values": [5000, 6000, 7000, 8000, 9000],
        "format": "d",
        "labelFontSize": 28,
        "labelPadding": 15,
        "titleFontSize": 32,
        "titleY": 88,
        "titleBaseline": "alphabetic"
      }
    },
    "y": {
      "field": "v",
      "type": "quantitative",
      "scale": {"domain": [-0.938, 0.955], "nice": false, "zero": false},
      "axis": {
        "title": "10⁻¹⁸ erg s⁻¹ cm⁻² Å⁻¹",
        "values": [-0.75, -0.5, -0.25, 0, 0.25, 0.5, 0.75],
        "format": ".2f",
        "labelFontSize": 35,
        "labelPadding": 16,
        "titleFontSize": 45,
        "titleAngle": 270,
        "titleX": -172,
        "titleY": 347,
        "titleAlign": "center",
        "titleBaseline": "alphabetic"
      }
    }
  },
  "layer": [
    {
      "data": {"name": "err"},
      "mark": {"type": "line", "color": "#008000", "strokeWidth": 1.3, "clip": true}
    },
    {
      "data": {"name": "flux"},
      "mark": {"type": "line", "color": "#000000", "strokeWidth": 4.2, "clip": true}
    },
    {
      "data": {"name": "zero"},
      "mark": {"type": "line", "color": "#0000ff", "strokeWidth": 5.5, "clip": true}
    }
  ],
  "config": {
    "font": "DejaVu Sans",
    "view": {"stroke": "#000000", "strokeWidth": 3},
    "axis": {
      "domain": false,
      "grid": false,
      "ticks": true,
      "tickColor": "#000000",
      "tickWidth": 2.7,
      "tickSize": 14,
      "labelColor": "#000000",
      "labelFont": "DejaVu Sans",
      "titleColor": "#000000",
      "titleFont": "DejaVu Sans",
      "titleFontWeight": "normal",
      "labelFlush": false,
      "labelOverlap": false
    }
  }
}
